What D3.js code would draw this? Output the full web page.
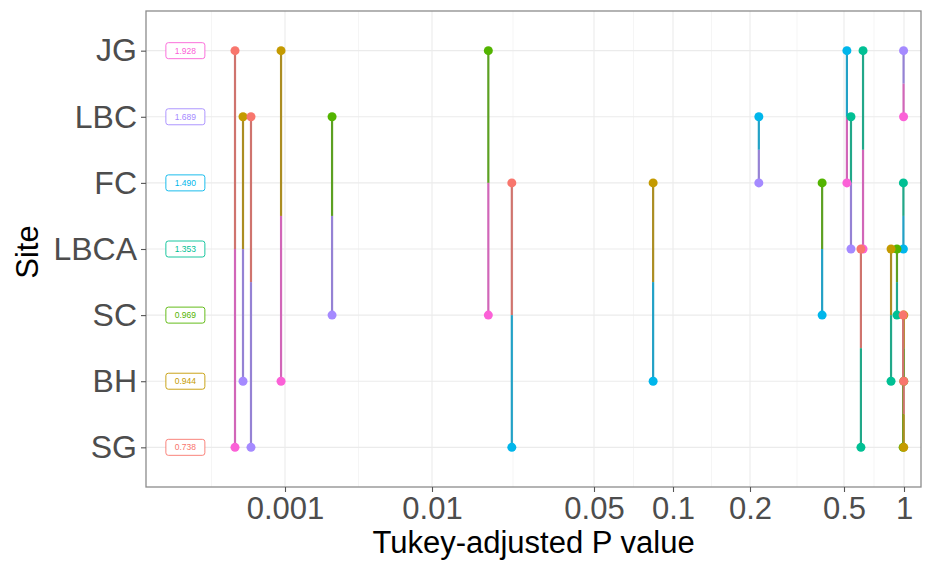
<!DOCTYPE html>
<html>
<head>
<meta charset="utf-8">
<script src="https://cdn.jsdelivr.net/npm/d3@7"></script>
<style>
  html, body { margin: 0; padding: 0; background: #fff; }
  svg { display: block; font-family: "Liberation Sans", Arial, sans-serif; }
</style>
</head>
<body>
<svg id="chart" width="930" height="563"></svg>
<script>
// Sites, top to bottom, with their colours and group means
const sites = ["JG", "LBC", "FC", "LBCA", "SC", "BH", "SG"];
const siteColors = ["#FB61D7", "#A58AFF", "#00B6EB", "#00C094", "#53B400", "#C49A00", "#F8766D"];
const siteValues = ["1.928", "1.689", "1.490", "1.353", "0.969", "0.944", "0.738"];

// Pairwise comparisons (Tukey HSD)
const pairA = ["JG", "JG", "JG", "JG", "JG", "JG",
               "LBC", "LBC", "LBC", "LBC", "LBC",
               "FC", "FC", "FC", "FC",
               "LBCA", "LBCA", "LBCA",
               "SC", "SC", "BH"];
const pairB = ["LBC", "FC", "LBCA", "SC", "BH", "SG",
               "FC", "LBCA", "SC", "BH", "SG",
               "LBCA", "SC", "BH", "SG",
               "SC", "BH", "SG",
               "BH", "SG", "SG"];
const pValues = [0.995, 0.517, 0.623, 0.0175, 0.00094, 0.000457,
                 0.218, 0.542, 0.00209, 0.000518, 0.000587,
                 0.993, 0.404, 0.084, 0.0221,
                 0.922, 0.861, 0.608,
                 0.998, 0.990, 0.997];

// Axis breaks
const xTicks = [0.001, 0.01, 0.05, 0.1, 0.2, 0.5, 1];
const xTickLabels = ["0.001", "0.01", "0.05", "0.1", "0.2", "0.5", "1"];
const labelAt = 0.00021;   // x position of the mean labels

// Layout
const W = 930, H = 563;
const panel = { left: 146, right: 921, top: 11, bottom: 487 };
const tickStops = [285, 432, 594, 673, 750, 844, 904];

const svg = d3.select("#chart");

// Piecewise log scale through the breaks
const x = d3.scaleLog().domain(xTicks).range(tickStops);
const y = d3.scalePoint().domain(sites).range([panel.top, panel.bottom]).padding(0.6);
const color = d3.scaleOrdinal().domain(sites).range(siteColors);
const lineColor = s => d3.interpolateRgb(color(s), "#707070")(0.3);

// Panel background
svg.append("rect")
  .attr("x", panel.left).attr("y", panel.top)
  .attr("width", panel.right - panel.left).attr("height", panel.bottom - panel.top)
  .attr("fill", "#fff");

const grid = svg.append("g");
// Minor vertical grid lines halfway between breaks
const minorX = [];
for (let i = 0; i < xTicks.length - 1; i++) {
  minorX.push(Math.sqrt(xTicks[i] * xTicks[i + 1]));
}
minorX.unshift(xTicks[0] / Math.sqrt(xTicks[1] / xTicks[0]));
grid.selectAll("line.minor").data(minorX).join("line")
  .attr("class", "minor")
  .attr("x1", d => x(d)).attr("x2", d => x(d))
  .attr("y1", panel.top).attr("y2", panel.bottom)
  .attr("stroke", "#f3f3f3").attr("stroke-width", 0.8);
grid.selectAll("line.majx").data(xTicks).join("line")
  .attr("class", "majx")
  .attr("x1", d => x(d)).attr("x2", d => x(d))
  .attr("y1", panel.top).attr("y2", panel.bottom)
  .attr("stroke", "#ebebeb").attr("stroke-width", 1.1);
grid.selectAll("line.majy").data(sites).join("line")
  .attr("class", "majy")
  .attr("x1", panel.left).attr("x2", panel.right)
  .attr("y1", d => y(d)).attr("y2", d => y(d))
  .attr("stroke", "#ebebeb").attr("stroke-width", 1.1);

// Mean labels
const labels = svg.append("g");
sites.forEach((s, i) => {
  const cx = x(labelAt), cy = y(s);
  labels.append("rect")
    .attr("x", cx - 19.5).attr("y", cy - 8)
    .attr("width", 39).attr("height", 16).attr("rx", 2.5)
    .attr("fill", "#fff").attr("stroke", color(s)).attr("stroke-width", 0.9);
  labels.append("text")
    .attr("x", cx).attr("y", cy).attr("dy", "0.35em")
    .attr("text-anchor", "middle").attr("font-size", 8.5)
    .attr("fill", color(s)).text(siteValues[i]);
});

// Each comparison: from each site half way to the partner, coloured by the partner
const halves = [];
pValues.forEach((p, i) => {
  const a = pairA[i], b = pairB[i];
  halves.push({ site: a, other: b, p });
  halves.push({ site: b, other: a, p });
});
const marks = svg.append("g");
marks.selectAll("line").data(halves).join("line")
  .attr("x1", d => x(d.p)).attr("x2", d => x(d.p))
  .attr("y1", d => y(d.site))
  .attr("y2", d => (y(d.site) + y(d.other)) / 2)
  .attr("stroke", d => lineColor(d.other)).attr("stroke-width", 2.2);
marks.selectAll("circle").data(halves).join("circle")
  .attr("cx", d => x(d.p)).attr("cy", d => y(d.site)).attr("r", 4.5)
  .attr("fill", d => color(d.other));

// Panel border
svg.append("rect")
  .attr("x", panel.left).attr("y", panel.top)
  .attr("width", panel.right - panel.left).attr("height", panel.bottom - panel.top)
  .attr("fill", "none").attr("stroke", "#8c8c8c").attr("stroke-width", 1.3);

// Axes
const xAxis = svg.append("g")
  .attr("transform", `translate(0,${panel.bottom})`)
  .call(d3.axisBottom(x).tickValues(xTicks).tickFormat((d, i) => xTickLabels[i]).tickSize(5).tickPadding(5));
const yAxis = svg.append("g")
  .attr("transform", `translate(${panel.left},0)`)
  .call(d3.axisLeft(y).tickSize(5).tickPadding(4));
[xAxis, yAxis].forEach(g => {
  g.select(".domain").remove();
  g.selectAll(".tick line").attr("stroke", "#555").attr("stroke-width", 1.1);
  g.selectAll(".tick text").attr("fill", "#4d4d4d").attr("font-family", "Liberation Sans, Arial, sans-serif");
});
xAxis.selectAll(".tick text").attr("font-size", 31);
yAxis.selectAll(".tick text").attr("font-size", 32);

// Axis titles
svg.append("text")
  .attr("x", (panel.left + panel.right) / 2).attr("y", 553)
  .attr("text-anchor", "middle").attr("font-size", 31).attr("fill", "#000")
  .text("Tukey-adjusted P value");
svg.append("text")
  .attr("transform", `translate(38,${(panel.top + panel.bottom) / 2 + 3}) rotate(-90)`)
  .attr("text-anchor", "middle").attr("font-size", 31).attr("fill", "#000")
  .text("Site");
</script>
</body>
</html>
